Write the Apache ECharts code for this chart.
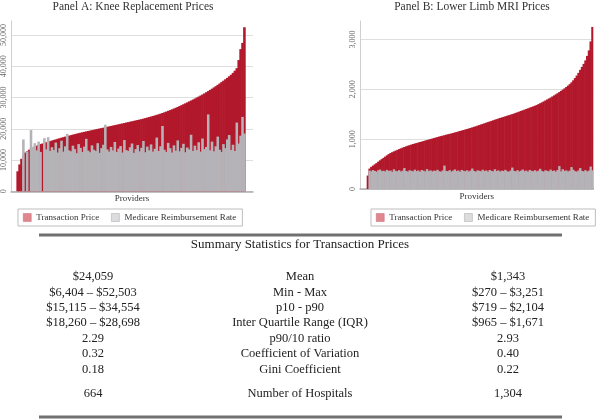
<!DOCTYPE html>
<html><head><meta charset="utf-8">
<script src="https://cdn.jsdelivr.net/npm/echarts@6/dist/echarts.min.js"></script>
<style>html,body{margin:0;padding:0;background:#fff}#c{width:600px;height:420px}</style>
</head><body><div id="c"></div>
<script>
// Panel A: knee replacement, providers sorted by transaction price
const priceA = [6404,8600,10400,11600,12400,12900,13300,13650,14000,14300,14600,14850,15115,15300,15500,15700,15850,16050,16250,16450,16600,16800,16980,17150,17330,17500,17650,17820,17980,18150,18290,18450,18600,18750,18900,19030,19160,19300,19430,19560,19700,19830,19970,20100,20240,20370,20500,20640,20770,20900,21040,21180,21310,21450,21590,21720,21860,22000,22130,22270,22400,22540,22680,22820,22960,23100,23260,23420,23580,23750,23920,24100,24280,24460,24650,24850,25060,25280,25500,25740,25980,26230,26480,26740,27000,27280,27570,27860,28150,28450,28750,29050,29360,29680,30000,30320,30650,30990,31340,31700,32070,32450,32840,33240,33650,34070,34500,34950,35400,35850,36300,36800,37300,37900,38600,39400,42000,45500,47500,52503];
const medicareA = [0,0,0,16600,0,12800,0,19600,14200,15400,13100,15900,12600,0,17000,13400,17300,12900,14100,13200,15600,12400,13800,16200,12700,14400,18400,13100,12800,14600,13500,12200,15100,13900,12600,14300,16800,13000,12500,14700,13300,12900,15400,12300,13800,14900,21300,13400,12700,14200,13100,15800,12600,13700,14500,12400,16400,13200,12900,14100,15300,12300,13500,14800,12800,13900,16100,12500,14300,13100,15000,12700,13600,17200,12900,14400,20900,13300,12600,15500,13800,12400,14700,13000,16300,12800,13900,15200,12500,14000,13400,18100,12900,14600,13200,15700,12700,16900,13500,14200,24600,13100,15900,12800,14400,17500,13300,12600,15100,13800,16600,18000,13200,14900,12900,22000,15300,17800,23800,18500];
// Panel B: lower limb MRI
const priceB = [270,410,445,470,495,520,548,575,600,625,650,675,700,721,738,755,770,785,800,815,830,843,856,868,880,891,902,912,922,932,942,952,962,972,982,992,1002,1012,1022,1032,1042,1052,1061,1070,1079,1088,1097,1106,1115,1124,1134,1144,1154,1164,1174,1184,1194,1204,1214,1225,1236,1247,1258,1270,1282,1294,1306,1318,1330,1342,1354,1366,1378,1390,1402,1414,1425,1436,1447,1458,1469,1480,1491,1502,1514,1527,1540,1553,1566,1579,1592,1605,1618,1631,1644,1657,1670,1685,1702,1720,1738,1757,1776,1795,1815,1835,1856,1877,1899,1921,1944,1968,1993,2019,2046,2074,2104,2140,2180,2225,2275,2330,2390,2450,2510,2580,2670,2780,2960,3251];
const medicareB = [0,370,355,380,362,348,375,390,358,366,352,384,360,371,345,395,362,357,378,350,368,420,361,349,376,365,354,388,359,372,347,381,366,353,398,360,374,351,369,362,385,356,347,372,470,363,355,379,350,367,392,358,371,346,383,364,357,376,352,369,410,361,348,374,366,355,387,359,372,349,380,365,354,396,360,373,350,368,362,384,356,348,371,430,363,354,378,351,367,391,358,370,347,382,364,356,377,353,368,405,361,349,375,365,354,389,359,371,348,381,460,353,397,362,374,351,369,440,386,357,349,372,420,364,355,379,352,368,450,375];
const panelTitles = ['Panel A: Knee Replacement Prices', 'Panel B: Lower Limb MRI Prices'];
const seriesNames = ['Transaction Price', 'Medicare Reimbursement Rate'];
const xAxisName = 'Providers';
const tableTitle = 'Summary Statistics for Transaction Prices';
const statLabels = ['Mean','Min - Max','p10 - p90','Inter Quartile Range (IQR)','p90/10 ratio','Coefficient of Variation','Gini Coefficient','Number of Hospitals'];
const statsKnee = ['$24,059','$6,404 \u2013 $52,503','$15,115 \u2013 $34,554','$18,260 \u2013 $28,698','2.29','0.32','0.18','664'];
const statsMRI = ['$1,343','$270 \u2013 $3,251','$719 \u2013 $2,104','$965 \u2013 $1,671','2.93','0.40','0.22','1,304'];

const FONT = '"Liberation Serif","Times New Roman",serif';
const RED = '#b2182b', GRAY = '#b5b3b7';
function pad(arr, l, r) { return Array(l).fill(null).concat(arr, Array(r).fill(null)); }
function cats(n) { return Array.from({length: n}, (_, i) => String(i)); }
const padA = [3, 4], padB = [4, 0];
const dA1 = pad(priceA, padA[0], padA[1]), dA2 = pad(medicareA, padA[0], padA[1]);
const dB1 = pad(priceB, padB[0], padB[1]), dB2 = pad(medicareB, padB[0], padB[1]);

function xAx(gi, n) {
  return { type: 'category', gridIndex: gi, data: cats(n), boundaryGap: true,
    axisTick: {show: false}, axisLabel: {show: false},
    axisLine: {lineStyle: {color: '#adadad', width: 1.5}},
    name: xAxisName, nameLocation: 'middle', nameGap: 3,
    nameTextStyle: {fontFamily: FONT, fontSize: 9, color: '#333'} };
}
function yAx(gi, max, interval) {
  return { type: 'value', gridIndex: gi, min: 0, max: max, interval: interval,
    axisLine: {show: true, lineStyle: {color: '#cfcfcf', width: 1}},
    axisTick: {show: false},
    splitLine: {show: true, showMaxLine: false, lineStyle: {color: '#dedede', width: 1}},
    axisLabel: {rotate: 90, margin: 3, fontFamily: FONT, fontSize: 8, color: '#666', showMaxLabel: false,
      formatter: v => v.toLocaleString('en-US')} };
}
function bar(name, gi, data, color) {
  return { type: 'bar', name: name, xAxisIndex: gi, yAxisIndex: gi, data: data,
    barCategoryGap: '0%', barGap: '-100%', barWidth: '135%', silent: true,
    itemStyle: {color: color, borderWidth: 0} };
}
function legend(left) {
  return { left: left, top: 209, orient: 'horizontal', icon: 'rect', itemWidth: 8, itemHeight: 8,
    itemGap: 12, padding: [4, 6, 4, 5], borderColor: '#bdbdbd', borderWidth: 1,
    textStyle: {fontFamily: FONT, fontSize: 9, color: '#333'}, selectedMode: false,
    data: [
      {name: seriesNames[0], itemStyle: {color: '#e0868f', borderColor: '#c86a75', borderWidth: 0.5}},
      {name: seriesNames[1], itemStyle: {color: '#dcdbde', borderColor: '#a8a8a8', borderWidth: 0.5}}
    ] };
}

const graphics = [];
graphics.push({type: 'line', shape: {x1: 39, y1: 235, x2: 562, y2: 235}, style: {stroke: '#707070', lineWidth: 3}});
graphics.push({type: 'line', shape: {x1: 39, y1: 417, x2: 562, y2: 417}, style: {stroke: '#707070', lineWidth: 3}});
graphics.push({type: 'text', x: 300, y: 245, style: {text: tableTitle, font: '13px ' + FONT, fill: '#222', align: 'center', verticalAlign: 'middle'}});
statLabels.forEach((lab, i) => {
  const y = i < 7 ? 277 + i * 15.4 : 394;
  const mk = (x, t) => ({type: 'text', x: x, y: y, style: {text: t, font: '12.5px ' + FONT, fill: '#222', align: 'center', verticalAlign: 'middle'}});
  graphics.push(mk(93, statsKnee[i]), mk(300, lab), mk(508, statsMRI[i]));
});

const chart = echarts.init(document.getElementById('c'), null, {renderer: 'canvas'});
chart.setOption({
  animation: false,
  backgroundColor: '#fff',
  title: [
    {text: panelTitles[0], left: 128, top: -4, textAlign: 'center', textStyle: {fontFamily: FONT, fontSize: 11.5, fontWeight: 'normal', color: '#333'}},
    {text: panelTitles[1], left: 467, top: -4, textAlign: 'center', textStyle: {fontFamily: FONT, fontSize: 11.5, fontWeight: 'normal', color: '#333'}}
  ],
  legend: [legend(18), legend(371)],
  grid: [
    {left: 11, width: 242, top: 21, height: 170.3, containLabel: false},
    {left: 360, width: 233.3, top: 21, height: 168, containLabel: false}
  ],
  xAxis: [xAx(0, dA1.length), xAx(1, dB1.length)],
  yAxis: [yAx(0, 54500, 10000), yAx(1, 3370, 1000)],
  series: [
    bar(seriesNames[0], 0, dA1, RED), bar(seriesNames[1], 0, dA2, GRAY),
    bar(seriesNames[0], 1, dB1, RED), bar(seriesNames[1], 1, dB2, GRAY)
  ],
  graphic: graphics
});
</script></body></html>
